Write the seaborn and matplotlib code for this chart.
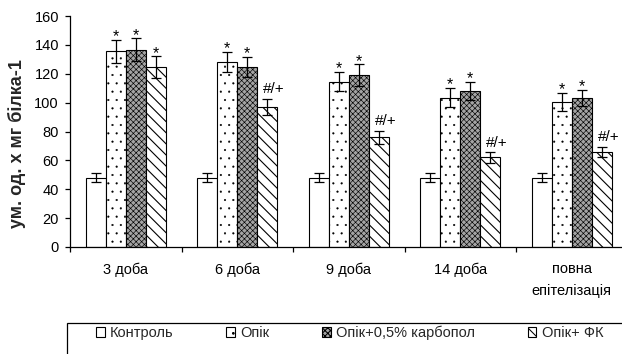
import matplotlib
matplotlib.use("Agg")
import matplotlib.pyplot as plt
from matplotlib.patches import Patch, Rectangle
from matplotlib import font_manager
import numpy as np
import pandas as pd
import seaborn as sns

# Periods of observation
days = ["3 доба", "6 доба", "9 доба", "14 доба", "повна\nепітелізація"]
groups = ["Контроль", "Опік", "Опік+0,5% карбопол", "Опік+ ФК"]

# Mean values (ум. од. х мг білка-1)
control = [48, 48, 48, 48, 48]
burn = [135.5, 128, 114.5, 103.5, 100.5]
carbopol = [136.5, 124.5, 119, 108, 103.5]
fk = [124.5, 97, 76, 62, 65.5]

# Standard errors
control_err = [3, 3, 3, 3, 3]
burn_err = [8, 7, 6.5, 6.5, 6.5]
carbopol_err = [8, 7, 7.5, 6.5, 5.5]
fk_err = [7.5, 5.5, 4.5, 3.5, 3.5]

# Significance marks above the bars
burn_marks = ["*", "*", "*", "*", "*"]
carbopol_marks = ["*", "*", "*", "*", "*"]
fk_marks = ["*", "#/+", "#/+", "#/+", "#/+"]

values = [control, burn, carbopol, fk]
errors = [control_err, burn_err, carbopol_err, fk_err]
marks = [None, burn_marks, carbopol_marks, fk_marks]

df = pd.DataFrame({
    "day": np.tile(days, len(groups)),
    "group": np.repeat(groups, len(days)),
    "value": np.concatenate(values),
})

sns.set_theme(style="white")
available = {f.name for f in font_manager.fontManager.ttflist}
base_font = "Liberation Sans" if "Liberation Sans" in available else "DejaVu Sans"
plt.rcParams["font.family"] = [base_font, "DejaVu Sans"]
plt.rcParams["font.style"] = "normal"
plt.rcParams["hatch.linewidth"] = 0.75
plt.rcParams["hatch.color"] = "black"

W, H = 622, 354
fig = plt.figure(figsize=(W / 100, H / 100), dpi=100)
ax = fig.add_axes([70 / W, 107 / H, 557.5 / W, 231 / H])

styles = [
    dict(facecolor="white", hatch=None, hlw=0.75),
    dict(facecolor="white", hatch="..", hlw=0.3),
    dict(facecolor="#a4a4a4", hatch="xxxxxx", hlw=0.45),
    dict(facecolor="white", hatch="\\\\\\", hlw=0.8),
]


def style_patch(p, st):
    p.set_facecolor(st["facecolor"])
    p.set_edgecolor("black")
    p.set_linewidth(0.8)
    if st["hatch"]:
        p.set_hatch(st["hatch"])
        if hasattr(p, "set_hatch_linewidth"):
            p.set_hatch_linewidth(st["hlw"])


sns.barplot(data=df, x="day", y="value", hue="group", order=days,
            hue_order=groups, errorbar=None, width=0.72, gap=0,
            legend=False, ax=ax)

for container, st, val, err, mk in zip(ax.containers, styles, values, errors, marks):
    xs = []
    for bar in container:
        style_patch(bar, st)
        xs.append(bar.get_x() + bar.get_width() / 2)
    xs = np.array(xs)
    ax.errorbar(xs, val, yerr=err, fmt="none", ecolor="black",
                elinewidth=0.9, capsize=3.6, capthick=0.9, zorder=5)
    if mk is not None:
        for x, v, e, m in zip(xs, val, err, mk):
            if m == "*":
                ax.text(x, v + e - 3, m, ha="center", va="bottom",
                        fontsize=11.5, color="black", zorder=6)
            else:
                ax.text(x + 0.06, v + e + 2, m, ha="center", va="bottom",
                        fontsize=11, color="black", zorder=6)

ax.set_xlim(-0.5, 4.5)
ax.set_ylim(0, 160)
ax.set_yticks(np.arange(0, 161, 20))
ax.set_xlabel("")
ax.set_ylabel("ум. од. х мг білка-1", fontsize=13, fontweight="bold",
              fontstyle="normal")
ax.yaxis.set_label_coords(-44 / 557.5, 0.448)

for side in ["top", "right"]:
    ax.spines[side].set_visible(False)
for side in ["left", "bottom"]:
    ax.spines[side].set_color("black")
    ax.spines[side].set_linewidth(0.9)

ax.tick_params(axis="y", which="major", left=True, length=3.5, width=0.9,
               color="black", labelsize=10.5, pad=4.5, labelcolor="black")
ax.tick_params(axis="x", which="major", bottom=False, length=0, pad=11,
               labelsize=10.5, labelcolor="black")
ax.set_xticks(np.arange(-0.5, 4.0, 1.0), minor=True)
ax.tick_params(axis="x", which="minor", bottom=True, length=3.5, width=0.9,
               color="black")
for lbl in ax.get_xticklabels():
    lbl.set_linespacing(1.7)
ax.grid(False)

# Legend frame running off the lower right edge
fig.patches.append(Rectangle((67 / W, -0.2), 1.0, (H - 323) / H + 0.2,
                             transform=fig.transFigure, facecolor="none",
                             edgecolor="black", linewidth=0.9))

handles = []
for st in styles:
    h = Patch()
    style_patch(h, st)
    handles.append(h)
fig.legend(handles, groups, loc="center left", mode="expand", ncol=4,
           bbox_to_anchor=(96 / W, (H - 333) / H, 507 / W, 0),
           frameon=False, handlelength=0.6, handleheight=0.6,
           handletextpad=0.35, borderaxespad=0, borderpad=0,
           prop={"family": [base_font, "DejaVu Sans"], "size": 10.5})

fig.savefig("out.png", dpi=100)
